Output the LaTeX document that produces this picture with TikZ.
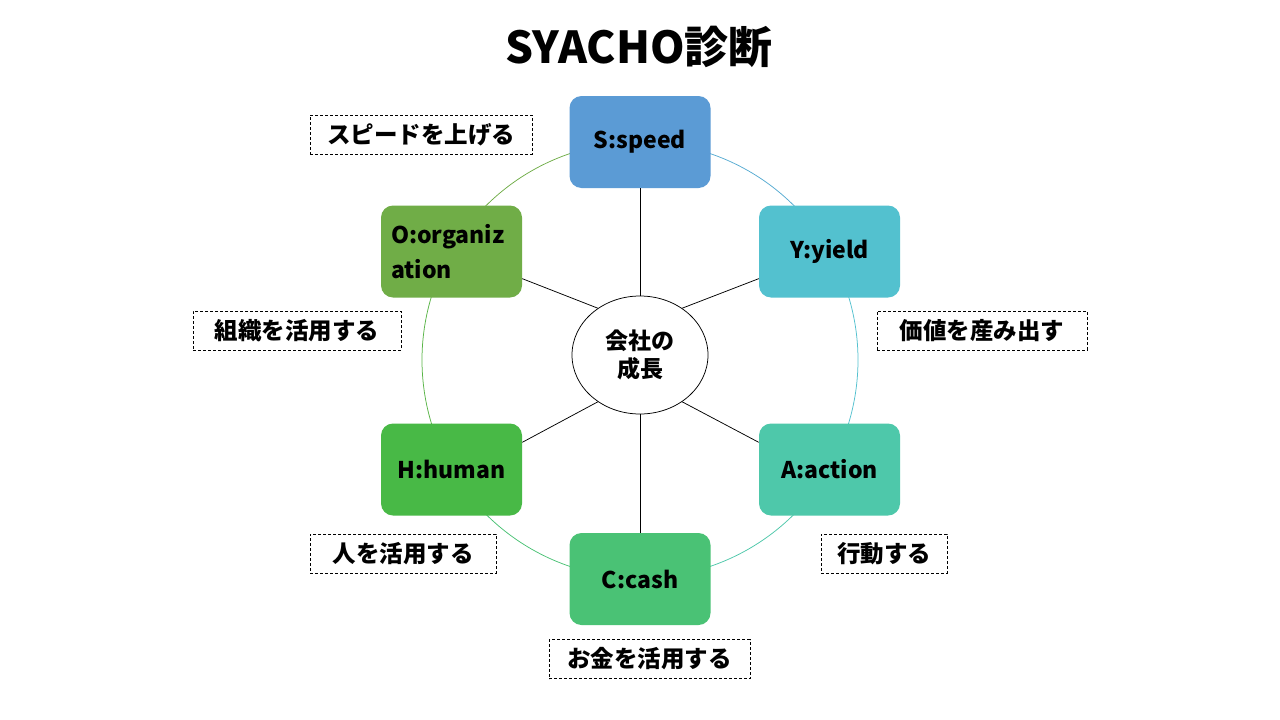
\documentclass[tikz,border=0pt]{standalone}
\usepackage{fontspec}
\setmainfont{Noto Sans CJK JP}
\usetikzlibrary{shapes.geometric}
\definecolor{cS}{RGB}{91,155,213}
\definecolor{cY}{RGB}{83,193,207}
\definecolor{cA}{RGB}{78,200,170}
\definecolor{cC}{RGB}{74,194,117}
\definecolor{cH}{RGB}{72,185,70}
\definecolor{cO}{RGB}{112,173,71}
\tikzset{
  keybox/.style={rounded corners=12pt, minimum width=141pt, minimum height=92pt, inner sep=0pt,
    font=\fontsize{23}{35}\selectfont\bfseries, text=black},
  tag/.style={draw, line width=0.75pt, dash pattern=on 3pt off 2pt, minimum height=39pt, inner sep=0pt,
    font=\fontsize{23.5}{27}\selectfont\bfseries},
  spoke/.style={draw=black, line width=0.75pt},
  ring/.style={line width=0.75pt}
}
\begin{document}
\begin{tikzpicture}[x=1pt,y=-1pt]
\useasboundingbox (0,0) rectangle (1280,720);
\fill[white] (0,0) rectangle (1280,720);
% ring
\draw[ring, color=cS!55!cY] (640,360) ++(-90:218) arc[start angle=-90,end angle=-30,radius=218];
\draw[ring, color=cY] (640,360) ++(-30:218) arc[start angle=-30,end angle=30,radius=218];
\draw[ring, color=cA] (640,360) ++(30:218) arc[start angle=30,end angle=90,radius=218];
\draw[ring, color=cC] (640,360) ++(90:218) arc[start angle=90,end angle=150,radius=218];
\draw[ring, color=cH!60!cO] (640,360) ++(150:218) arc[start angle=150,end angle=210,radius=218];
\draw[ring, color=cO] (640,360) ++(210:218) arc[start angle=210,end angle=270,radius=218];
% title
\node[font=\fontsize{44}{50}\selectfont\bfseries] (title) at (639,47) {SYACHO診断};
% center
\node[draw, ellipse, line width=0.75pt, minimum width=136pt, minimum height=118pt, inner sep=0pt,
  font=\fontsize{23}{28}\selectfont\bfseries, align=center] (ctr) at (640,355) {会社の\\成長};
% boxes
\node[keybox, fill=cS] (S) at (640,142) {S:speed};
\node[keybox, fill=cY] (Y) at (829.5,251.5) {Y:yield};
\node[keybox, fill=cA] (A) at (829.5,469.5) {A:action};
\node[keybox, fill=cC] (C) at (640,579) {C:cash};
\node[keybox, fill=cH] (H) at (451.5,469.5) {H:human};
\node[keybox, fill=cO, align=left, text width=121pt] (O) at (451.5,251.5) {O:organiz\\ation};
% spokes
\draw[spoke] (S.south) -- (ctr.north);
\draw[spoke] (C.north) -- (ctr.south);
\draw[spoke] (O.-21) -- (ctr.132);
\draw[spoke] (Y.201) -- (ctr.48);
\draw[spoke] (H.21) -- (ctr.228);
\draw[spoke] (A.159) -- (ctr.-48);
% tags
\node[tag, minimum width=222pt] (tS) at (421,134.5) {スピードを上げる};
\node[tag, minimum width=208pt] (tO) at (297,330.5) {組織を活用する};
\node[tag, minimum width=210pt] (tY) at (982,330.5) {価値を産み出す};
\node[tag, minimum width=186pt] (tH) at (403,553.5) {人を活用する};
\node[tag, minimum width=126pt] (tA) at (884,553.5) {行動する};
\node[tag, minimum width=201pt] (tC) at (649.5,659) {お金を活用する};
\end{tikzpicture}
\end{document}
